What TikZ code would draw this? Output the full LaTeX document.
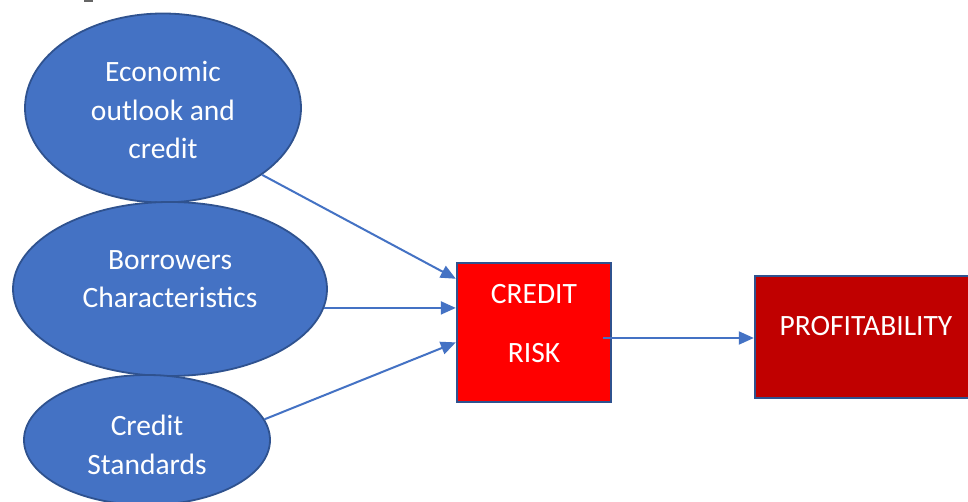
\documentclass[tikz,border=0pt]{standalone}
\usepackage{fontspec}
\setmainfont{Carlito}
\usetikzlibrary{shapes.geometric,arrows.meta,calc}
\definecolor{ellfill}{HTML}{4472C4}
\definecolor{ellline}{HTML}{2F528F}
\definecolor{riskfill}{HTML}{FF0000}
\definecolor{proffill}{HTML}{C00000}
\definecolor{arrowcol}{HTML}{4472C4}
\tikzset{
  oval/.style={ellipse, draw=ellline, fill=ellfill, line width=1.8pt, inner sep=0pt},
  boxnode/.style={rectangle, draw=ellline, line width=2.4pt, inner sep=0pt},
  lbl/.style={text=white, align=center, font=\fontsize{29.5}{38.5}\selectfont, inner sep=0pt},
  link/.style={draw=arrowcol, line width=2pt, -{Triangle[length=15pt,width=13pt]}}
}
\begin{document}
\begin{tikzpicture}[x=1pt,y=-1pt]
\useasboundingbox[fill=white] (0,0) rectangle (968,502);
% small cut-off mark at the top
\fill[black!60] (84,0) rectangle (93,2);
% ovals
\node[oval, minimum width=276pt, minimum height=189pt] (e1) at (163,108) {};
\node[oval, minimum width=314pt, minimum height=174pt] (e2) at (170,289) {};
\node[oval, minimum width=246pt, minimum height=130pt] (e3) at (147,440) {};
\node[lbl] (t1) at (163,110) {Economic\\outlook and\\credit};
\node[lbl] (t2) at (170,279) {Borrowers\\Characteristics};
\node[lbl] (t3) at (147,445) {Credit\\Standards};
% boxes
\node[boxnode, fill=riskfill, minimum width=154pt, minimum height=139pt] (cr) at (534,332.5) {};
\node[lbl] (crt) at (534,323.5) {CREDIT\\[20.5pt]RISK};
\node[boxnode, fill=proffill, minimum width=222pt, minimum height=122pt] (pr) at (866,337) {};
\node[lbl] (prt) at (866,326) {PROFITABILITY};
% connectors
\coordinate (in1) at ($(cr.north west)!0.12!(cr.south west)$);
\coordinate (in3) at ($(cr.north west)!0.57!(cr.south west)$);
\coordinate (outr) at ($(cr.east)+(-9,5.5)$);
\draw[link] (e1.-34) -- (in1);
\draw[link] (e2.-7) -- (e2.-7 -| cr.west);
\draw[link] (e3.10) -- (in3);
\draw[link] (outr) -- (outr -| pr.west);
\end{tikzpicture}
\end{document}
